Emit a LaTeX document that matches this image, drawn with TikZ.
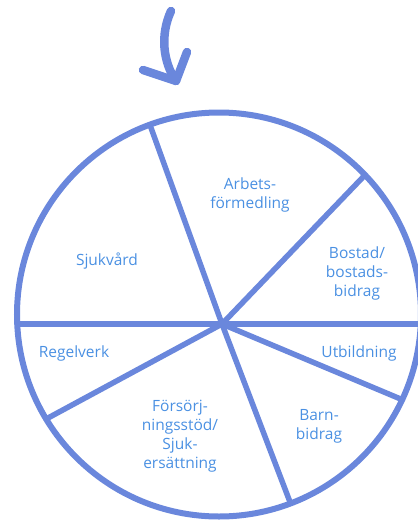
\documentclass[tikz,border=0pt]{standalone}
\usepackage{fontspec}
\setmainfont{Open Sans}
\definecolor{wheel}{RGB}{106,135,220}
\definecolor{lbl}{RGB}{74,144,226}
\begin{document}
\begin{tikzpicture}[x=1pt,y=-1pt,
  rim/.style={draw=wheel,line width=6pt},
  spoke/.style={draw=wheel,line width=5.5pt},
  arr/.style={draw=wheel,line width=8.5pt,line cap=round,line join=round},
  lab/.style={text=lbl,font=\fontsize{15.5}{19}\selectfont,align=center,inner sep=0pt}]
\useasboundingbox (0,0) rectangle (418,520);
\coordinate (c) at (219,314.5);
\coordinate (hub) at (222,324);
\coordinate (p1) at (150,125);
\coordinate (p2) at (365,175);
\coordinate (pl) at (17,324);
\coordinate (pr) at (425,324);
\coordinate (p4) at (48,418);
\coordinate (p5) at (403,400);
\coordinate (p6) at (290,502);
\draw[rim] (c) circle[radius=202];
\draw[spoke] (hub) -- (p1);
\draw[spoke] (hub) -- (p2);
\draw[spoke] (pl) -- (pr);
\draw[spoke] (hub) -- (p4);
\draw[spoke] (hub) -- (p5);
\draw[spoke] (hub) -- (p6);
% arrow
\coordinate (a0) at (171,11);
\coordinate (tip) at (176,81);
\coordinate (bl) at (143,70);
\coordinate (br) at (187,52);
\draw[arr] (a0) .. controls (160,35) and (163,62) .. (tip);
\draw[arr] (bl) -- (tip) -- (br);
% labels
\node[lab] (arb) at (250,195) {Arbets-\\förmedling};
\node[lab] (sjv) at (107,261) {Sjukvård};
\node[lab] (bos) at (357,273) {Bostad/\\bostads-\\bidrag};
\node[lab] (reg) at (74,353) {Regelverk};
\node[lab] (utb) at (359,353) {Utbildning};
\node[lab] (barn) at (319,426) {Barn-\\bidrag};
\node[lab] (fors) at (180,436) {Försörj-\\ningsstöd/\\Sjuk-\\ersättning};
\end{tikzpicture}
\end{document}
